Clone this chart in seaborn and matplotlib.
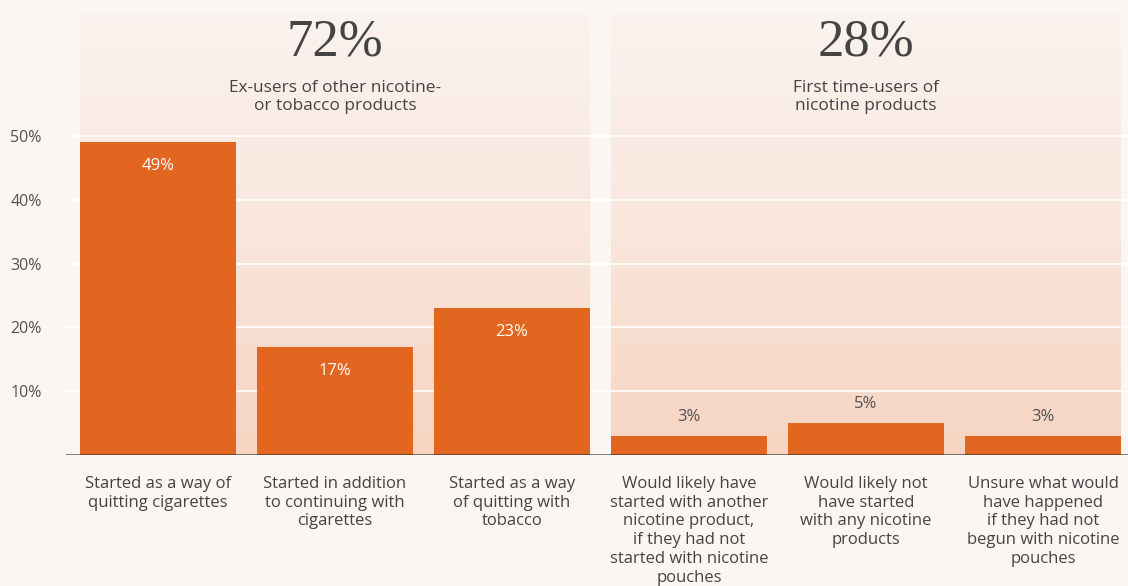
import numpy as np
import pandas as pd
import matplotlib
matplotlib.use("Agg")
import matplotlib.pyplot as plt
from matplotlib.colors import LinearSegmentedColormap
import seaborn as sns

# --- data -------------------------------------------------------------
categories = [
    "Started as a way of\nquitting cigarettes",
    "Started in addition\nto continuing with\ncigarettes",
    "Started as a way\nof quitting with\ntobacco",
    "Would likely have\nstarted with another\nnicotine product,\nif they had not\nstarted with nicotine\npouches",
    "Would likely not\nhave started\nwith any nicotine\nproducts",
    "Unsure what would\nhave happened\nif they had not\nbegun with nicotine\npouches",
]
values = [49, 17, 23, 3, 5, 3]
group_of_bar = [0, 0, 0, 1, 1, 1]
group_share = ["72%", "28%"]
group_titles = ["Ex-users of other nicotine-\nor tobacco products",
                "First time-users of\nnicotine products"]
yticks = [10, 20, 30, 40, 50]

# --- style ------------------------------------------------------------
sns.set_theme(style="white")
SANS = ["Open Sans", "DejaVu Sans"]
SERIF = ["Liberation Serif", "DejaVu Serif"]
plt.rcParams["font.family"] = SANS

BG = "#fbf6f2"
BAR = "#e2661f"
TXT = "#444444"
TICK = "#525252"

W, H = 1128, 586
fig = plt.figure(figsize=(W / 100, H / 100), dpi=100, facecolor=BG)

px_per_cat = 177.0
first_center = 158.0
ax_left_px = 66.0
base_px = 455.0
px_per_pct = 6.38

x0 = -(first_center - ax_left_px) / px_per_cat
x1 = (W - first_center) / px_per_cat
ytop = base_px / px_per_pct

ax = fig.add_axes([ax_left_px / W, (H - base_px) / H, (W - ax_left_px) / W, base_px / H])
ax.set_facecolor(BG)

bar_w = 156 / 177

df = pd.DataFrame({"category": categories, "value": values})
sns.barplot(data=df, x="category", y="value", color=BAR, width=bar_w,
            saturation=1, ax=ax, zorder=3, edgecolor="none")

# gradient panels behind each group, with the group share and description
cmap = LinearSegmentedColormap.from_list("panel", ["#f6d4c1", "#f9e6dc", "#fbf3ef"])
grad = np.linspace(0, 1, 256).reshape(-1, 1)
panel_top = (base_px - 14) / px_per_pct
for g in range(2):
    idx = [i for i, gg in enumerate(group_of_bar) if gg == g]
    left = min(idx) - bar_w / 2
    right = max(idx) + bar_w / 2
    ax.imshow(grad, extent=[left, right, 0, panel_top], origin="lower",
              cmap=cmap, aspect="auto", zorder=0, interpolation="bicubic")
    cx = (min(idx) + max(idx)) / 2
    ax.text(cx, (base_px - 43) / px_per_pct, group_share[g], ha="center", va="center",
            fontsize=38, color=TXT, family=SERIF, zorder=5)
    ax.text(cx, (base_px - 97) / px_per_pct, group_titles[g], ha="center", va="center",
            fontsize=12.4, color=TXT, linespacing=1.12, zorder=5)

ax.set_xlim(x0, x1)
ax.set_ylim(0, ytop)

# gridlines and baseline
for t in yticks:
    ax.axhline(t, color="white", lw=1.2, zorder=1)
ax.axhline(0, color="#333333", alpha=0.6, lw=2.2, zorder=4)

# bar value labels: inside tall bars, above short ones
for i, v in enumerate(values):
    if v >= 10:
        ax.text(i, v - 24 / px_per_pct, f"{v}%", ha="center", va="center",
                color="white", fontsize=12, zorder=5)
    else:
        ax.text(i, v + 19 / px_per_pct, f"{v}%", ha="center", va="center",
                color=TICK, fontsize=12, zorder=5)

ax.set_yticks(yticks)
ax.set_yticklabels([f"{t}%" for t in yticks], color=TICK, fontsize=11.5)
for lab in ax.get_yticklabels():
    lab.set_horizontalalignment("left")
ax.yaxis.set_tick_params(length=0, pad=40)

ax.set_xticks(range(len(categories)))
ax.set_xticklabels(categories, color=TXT, fontsize=12, linespacing=1.23, va="top")
ax.xaxis.set_tick_params(length=0, pad=15)

ax.set_xlabel("")
ax.set_ylabel("")
for s in ax.spines.values():
    s.set_visible(False)

fig.savefig("out.png", dpi=100, facecolor=BG)
